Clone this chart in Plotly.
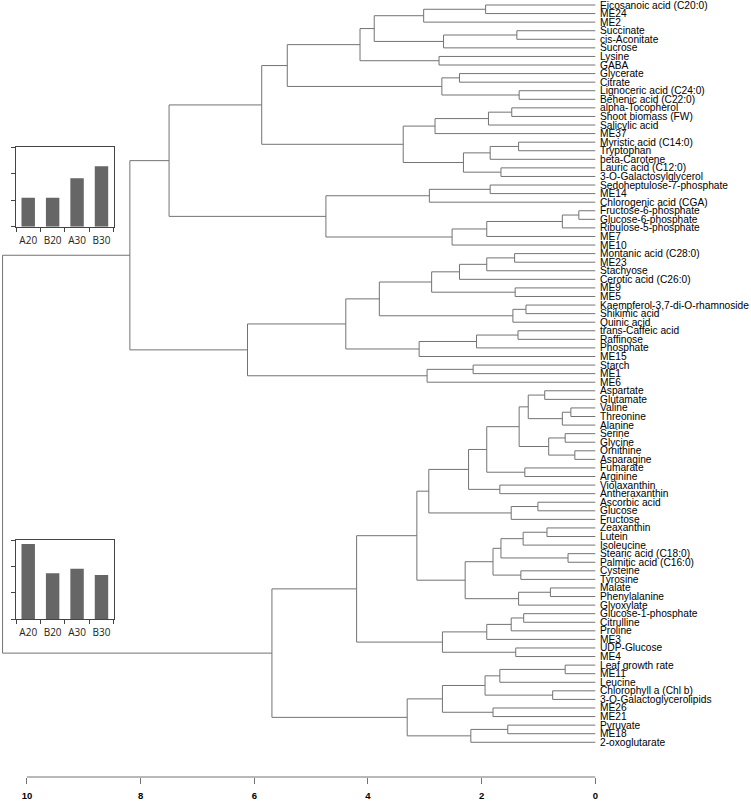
import plotly.graph_objects as go

leaves = [
    "Eicosanoic acid (C20:0)", "ME24", "ME2", "Succinate", "cis-Aconitate", "Sucrose",
    "Lysine", "GABA", "Glycerate", "Citrate", "Lignoceric acid (C24:0)", "Behenic acid (C22:0)",
    "alpha-Tocopherol", "Shoot biomass (FW)", "Salicylic acid", "ME37", "Myristic acid (C14:0)",
    "Tryptophan", "beta-Carotene", "Lauric acid (C12:0)", "3-O-Galactosylglycerol",
    "Sedoheptulose-7-phosphate", "ME14", "Chlorogenic acid (CGA)", "Fructose-6-phosphate",
    "Glucose-6-phosphate", "Ribulose-5-phosphate", "ME7", "ME10", "Montanic acid (C28:0)",
    "ME23", "Stachyose", "Cerotic acid (C26:0)", "ME9", "ME5", "Kaempferol-3,7-di-O-rhamnoside",
    "Shikimic acid", "Quinic acid", "trans-Caffeic acid", "Raffinose", "Phosphate", "ME15",
    "Starch", "ME1", "ME6", "Aspartate", "Glutamate", "Valine", "Threonine", "Alanine",
    "Serine", "Glycine", "Ornithine", "Asparagine", "Fumarate", "Arginine", "Violaxanthin",
    "Antheraxanthin", "Ascorbic acid", "Glucose", "Fructose", "Zeaxanthin", "Lutein",
    "Isoleucine", "Stearic acid (C18:0)", "Palmitic acid (C16:0)", "Cysteine", "Tyrosine",
    "Malate", "Phenylalanine", "Glyoxylate", "Glucose-1-phosphate", "Citrulline", "Proline",
    "ME3", "UDP-Glucose", "ME4", "Leaf growth rate", "ME11", "Leucine",
    "Chlorophyll a (Chl b)", "3-O-Galactoglycerolipids", "ME26", "ME21", "Pyruvate", "ME18",
    "2-oxoglutarate",
]

# merges: (child A, child B, height); strings = leaves, ints = earlier merge index
merges = [
    ("Eicosanoic acid (C20:0)", "ME24", 1.93),      # 0
    (0, "ME2", 3.02),                                # 1
    ("Succinate", "cis-Aconitate", 1.38),            # 2
    (2, "Sucrose", 2.67),                            # 3
    (1, 3, 3.89),                                    # 4
    ("Lysine", "GABA", 2.75),                        # 5
    (4, 5, 4.14),                                    # 6
    ("Glycerate", "Citrate", 2.39),                  # 7
    ("Lignoceric acid (C24:0)", "Behenic acid (C22:0)", 1.34),  # 8
    (7, 8, 2.70),                                    # 9
    (6, 9, 5.42),                                    # 10
    ("alpha-Tocopherol", "Shoot biomass (FW)", 1.47),  # 11
    (11, "Salicylic acid", 1.88),                    # 12
    (12, "ME37", 2.82),                              # 13
    ("Myristic acid (C14:0)", "Tryptophan", 1.35),   # 14
    (14, "beta-Carotene", 1.85),                     # 15
    ("Lauric acid (C12:0)", "3-O-Galactosylglycerol", 1.66),  # 16
    (15, 16, 2.32),                                  # 17
    (13, 17, 3.38),                                  # 18
    (10, 18, 5.87),                                  # 19
    ("Sedoheptulose-7-phosphate", "ME14", 1.85),     # 20
    (20, "Chlorogenic acid (CGA)", 2.92),            # 21
    ("Fructose-6-phosphate", "Glucose-6-phosphate", 0.29),  # 22
    (22, "Ribulose-5-phosphate", 0.58),              # 23
    (23, "ME7", 1.91),                               # 24
    (24, "ME10", 2.52),                              # 25
    (21, 25, 4.74),                                  # 26
    (19, 26, 7.50),                                  # 27
    ("Montanic acid (C28:0)", "ME23", 1.42),         # 28
    (28, "Stachyose", 1.91),                         # 29
    (29, "Cerotic acid (C26:0)", 2.39),              # 30
    ("ME9", "ME5", 1.41),                            # 31
    (30, 31, 2.88),                                  # 32
    ("Kaempferol-3,7-di-O-rhamnoside", "Shikimic acid", 1.22),  # 33
    (33, "Quinic acid", 1.45),                       # 34
    (32, 34, 3.80),                                  # 35
    ("trans-Caffeic acid", "Raffinose", 1.36),       # 36
    (36, "Phosphate", 2.09),                         # 37
    (37, "ME15", 3.10),                              # 38
    (35, 38, 4.39),                                  # 39
    ("Starch", "ME1", 2.15),                         # 40
    (40, "ME6", 2.96),                               # 41
    (39, 41, 6.12),                                  # 42
    (27, 42, 8.19),                                  # 43
    ("Aspartate", "Glutamate", 0.89),                # 44
    ("Valine", "Threonine", 0.43),                   # 45
    (45, "Alanine", 0.58),                           # 46
    (44, 46, 1.18),                                  # 47
    ("Serine", "Glycine", 0.53),                     # 48
    ("Ornithine", "Asparagine", 0.36),               # 49
    (48, 49, 0.82),                                  # 50
    (47, 50, 1.34),                                  # 51
    ("Fumarate", "Arginine", 1.24),                  # 52
    (51, 52, 1.91),                                  # 53
    ("Violaxanthin", "Antheraxanthin", 1.68),        # 54
    (53, 54, 2.23),                                  # 55
    ("Ascorbic acid", "Glucose", 1.01),              # 56
    (56, "Fructose", 1.48),                          # 57
    (55, 57, 2.93),                                  # 58
    ("Zeaxanthin", "Lutein", 0.85),                  # 59
    (59, "Isoleucine", 1.27),                        # 60
    ("Stearic acid (C18:0)", "Palmitic acid (C16:0)", 0.48),  # 61
    (60, 61, 1.66),                                  # 62
    ("Cysteine", "Tyrosine", 1.31),                  # 63
    (62, 63, 1.80),                                  # 64
    ("Malate", "Phenylalanine", 0.79),               # 65
    (65, "Glyoxylate", 1.35),                        # 66
    (64, 66, 2.29),                                  # 67
    (58, 67, 3.14),                                  # 68
    ("Glucose-1-phosphate", "Citrulline", 1.26),     # 69
    (69, "Proline", 1.48),                           # 70
    (70, "ME3", 1.91),                               # 71
    ("UDP-Glucose", "ME4", 1.40),                    # 72
    (71, 72, 2.69),                                  # 73
    (68, 73, 4.20),                                  # 74
    ("Leaf growth rate", "ME11", 0.53),              # 75
    (75, "Leucine", 1.68),                           # 76
    ("Chlorophyll a (Chl b)", "3-O-Galactoglycerolipids", 0.75),  # 77
    (76, 77, 1.94),                                  # 78
    ("ME26", "ME21", 1.80),                          # 79
    (78, 79, 2.69),                                  # 80
    ("Pyruvate", "ME18", 1.54),                      # 81
    (81, "2-oxoglutarate", 2.19),                    # 82
    (80, 82, 3.31),                                  # 83
    (74, 83, 5.69),                                  # 84
    (43, 84, 10.43),                                 # 85
]

inset_categories = ["A20", "B20", "A30", "B30"]
inset_top_values = [1.09, 1.09, 1.82, 2.28]
inset_bottom_values = [2.86, 1.75, 1.92, 1.68]
x_tick_values = [10, 8, 6, 4, 2, 0]

# ---- build dendrogram segments ----
leaf_pos = {name: i + 1 for i, name in enumerate(leaves)}
node_y, node_h = [], []


def child(ref):
    if isinstance(ref, str):
        return leaf_pos[ref], 0.0
    return node_y[ref], node_h[ref]


xs, ys = [], []
for a, b, h in merges:
    ya, ha = child(a)
    yb, hb = child(b)
    xs += [ha, h, h, hb, None]
    ys += [ya, ya, yb, yb, None]
    node_y.append((ya + yb) / 2)
    node_h.append(h)

LINE = "#737373"
fig = go.Figure()
fig.add_trace(go.Scatter(x=xs, y=ys, mode="lines", line=dict(color=LINE, width=1),
                         hoverinfo="skip", showlegend=False, xaxis="x", yaxis="y"))

fig.add_trace(go.Bar(x=inset_categories, y=inset_top_values, marker=dict(color="#666666", line=dict(width=0)),
                     xaxis="x2", yaxis="y2", showlegend=False))
fig.add_trace(go.Bar(x=inset_categories, y=inset_bottom_values, marker=dict(color="#666666", line=dict(width=0)),
                     xaxis="x3", yaxis="y3", showlegend=False))

annotations = []
for name, p in leaf_pos.items():
    annotations.append(dict(x=0, y=p, xref="x", yref="y", text=name, showarrow=False,
                            xanchor="left", yanchor="middle", xshift=3,
                            font=dict(family="Liberation Sans, Arial", size=10.2, color="black")))

W, H = 751, 802
PW, PH = 596, 777


def px_x(p):
    return p / PW


def px_y(p):
    return 1 - p / PH


inset_x_common = dict(type="category", range=[-0.5, 3.5], tickson="boundaries", ticks="outside",
                      ticklen=4, tickcolor="#444", showline=True, mirror=True, linecolor="#444",
                      linewidth=1, showgrid=False, zeroline=False, tickangle=0,
                      ticklabelstandoff=4,
                      tickfont=dict(family="Open Sans", size=10, color="#222"))
inset_y_common = dict(range=[0, 3], tickvals=[0, 1, 2, 3], ticks="outside", ticklen=4,
                      tickcolor="#444", showticklabels=False, showline=True, mirror=True,
                      linecolor="#444", linewidth=1, showgrid=False, zeroline=False)

fig.update_layout(
    width=W, height=H,
    margin=dict(l=0, r=W - PW, t=0, b=H - PH, pad=0),
    paper_bgcolor="white", plot_bgcolor="white",
    bargap=0.45,
    xaxis=dict(range=[10.475, -0.0123], tickvals=x_tick_values, ticktext=[str(v) for v in x_tick_values],
               ticks="outside", ticklen=6, tickcolor=LINE, showline=False, showgrid=False,
               zeroline=False, ticklabelstandoff=4,
               tickfont=dict(family="Liberation Sans, Arial", size=9.5, color="black", weight="bold")),
    yaxis=dict(range=[91.05, 0.417], visible=False),
    xaxis2=dict(domain=[px_x(16), px_x(113.7)], anchor="y2", **inset_x_common),
    yaxis2=dict(domain=[px_y(226.7), px_y(147)], anchor="x2", **inset_y_common),
    xaxis3=dict(domain=[px_x(16), px_x(113.7)], anchor="y3", **inset_x_common),
    yaxis3=dict(domain=[px_y(619.3), px_y(540.3)], anchor="x3", **inset_y_common),
    annotations=annotations,
    shapes=[dict(type="line", xref="x", yref="paper", x0=10, x1=0, y0=0, y1=0,
                 line=dict(color=LINE, width=1))],
)

fig.write_html("out.html", config={"displayModeBar": False},
               post_script="document.body.style.margin='0';")
